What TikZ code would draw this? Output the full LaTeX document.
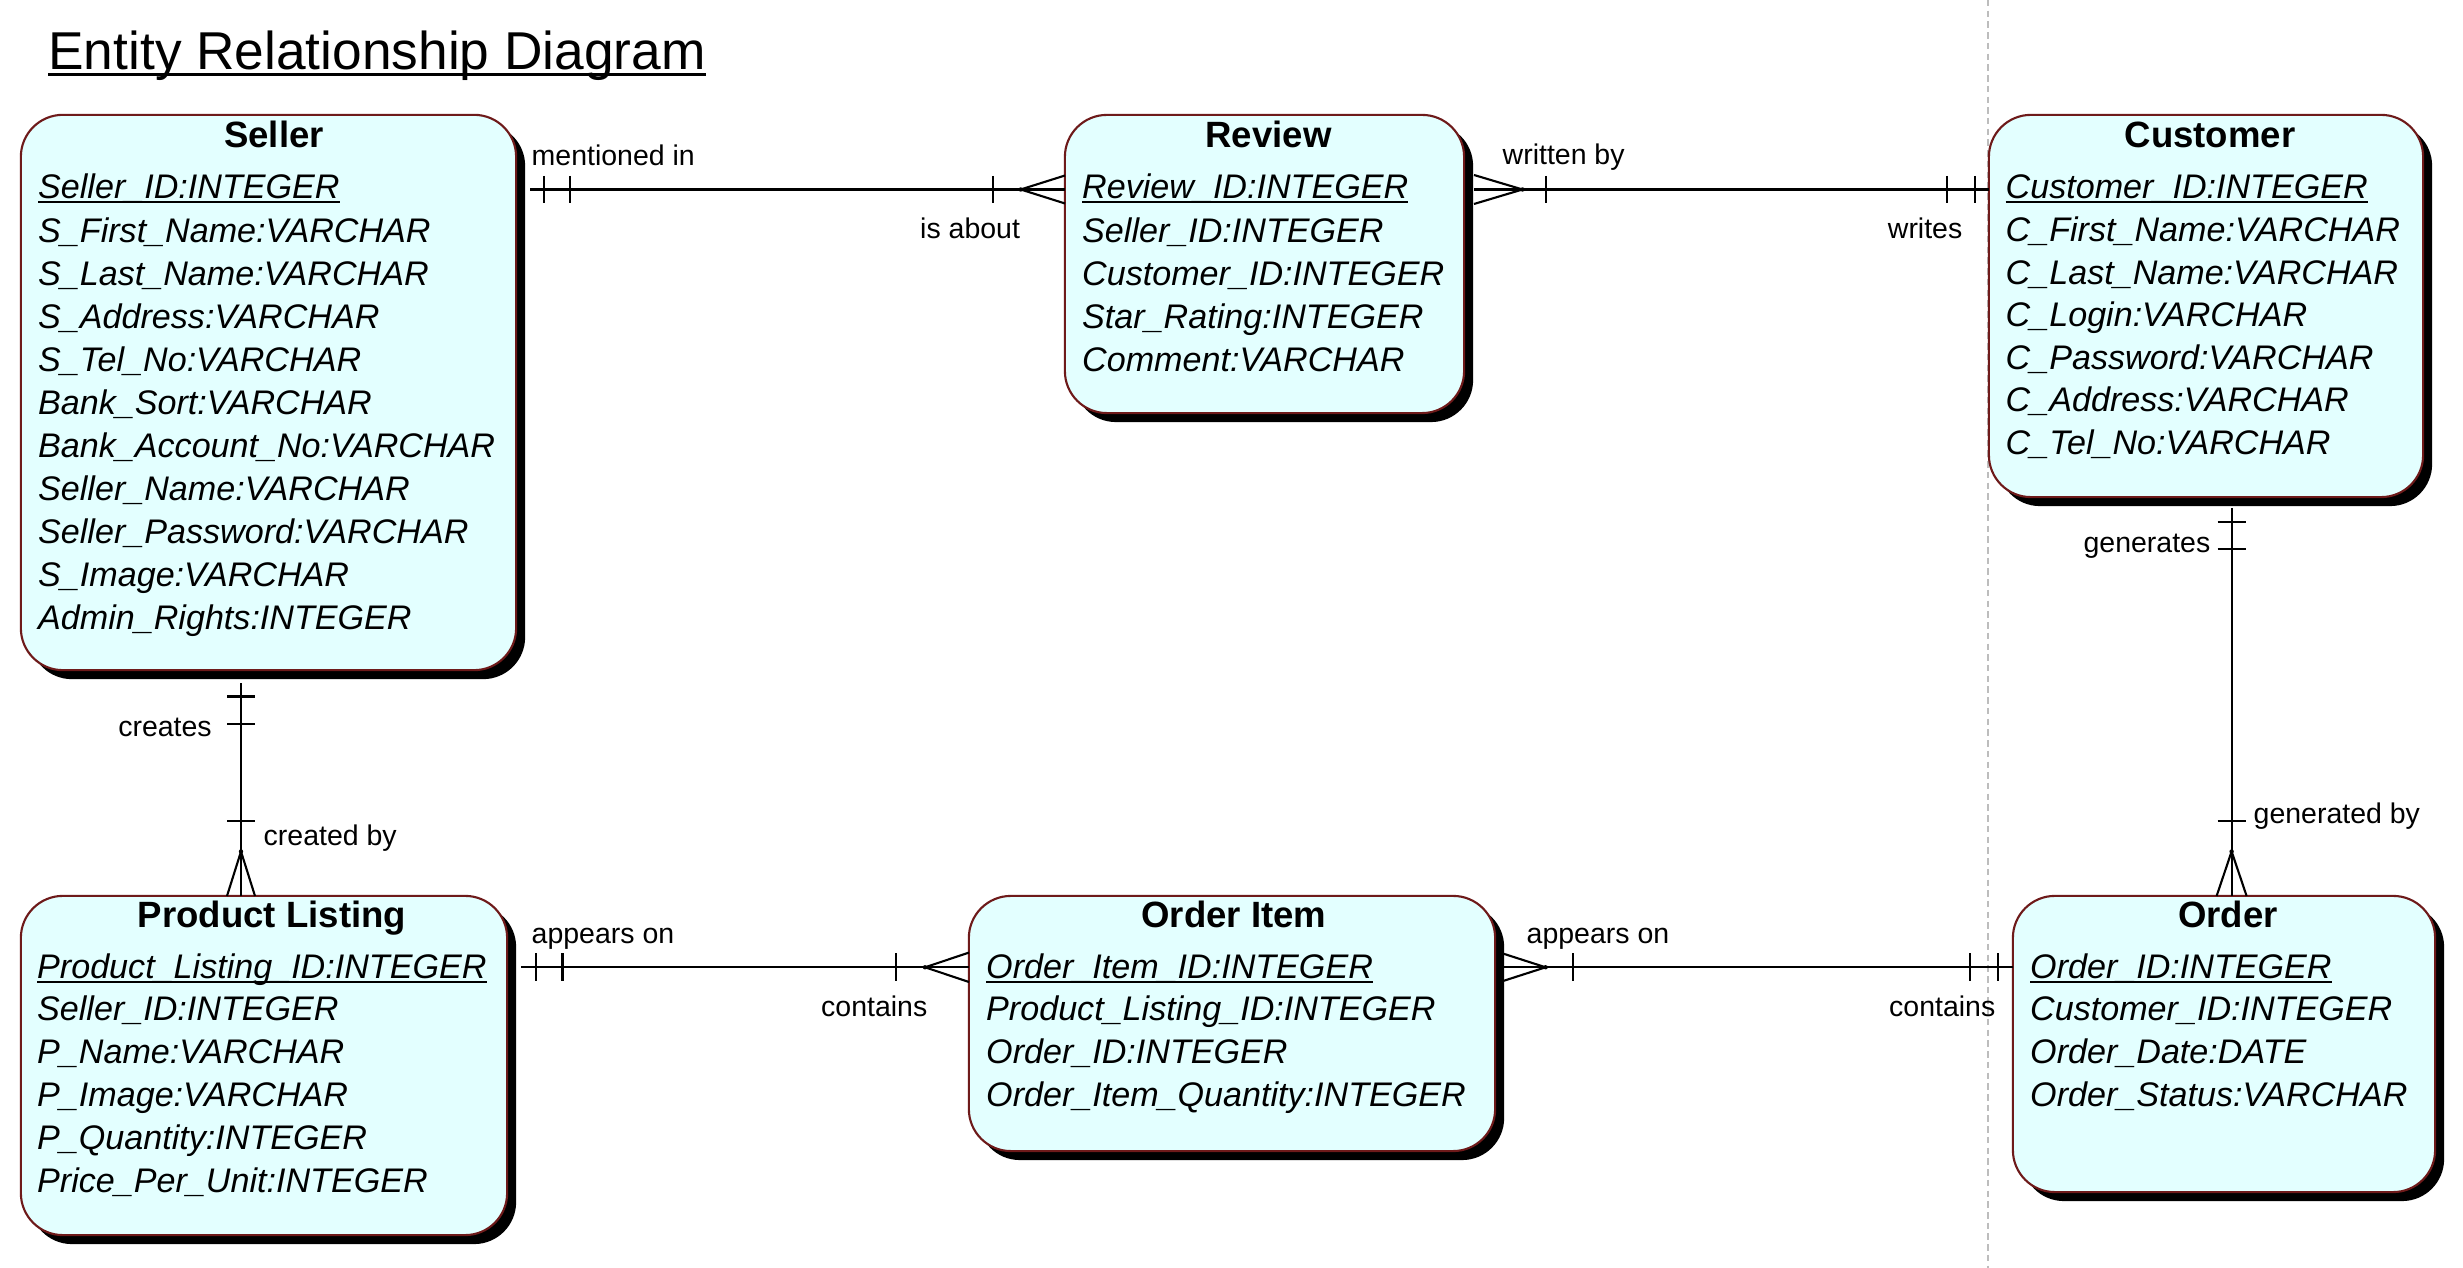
\documentclass[tikz,border=0pt]{standalone}
\usepackage{fontspec}
\setmainfont{Liberation Sans}
\usetikzlibrary{shadows}
\definecolor{efill}{HTML}{E3FFFF}
\definecolor{eborder}{HTML}{6E1A1A}
\definecolor{pagebreak}{HTML}{BDBDBD}
\newcommand\pkey[1]{\setbox0=\hbox{#1}\rlap{\rule[-1.25pt]{\wd0}{0.6pt}}\box0}
\newcommand\ultitle[1]{\setbox0=\hbox{#1}\rlap{\rule[-1.8pt]{\wd0}{0.9pt}}\box0}
\tikzset{
  entity/.style={draw=eborder, line width=0.6pt, fill=efill, rounded corners=0.42cm,
    inner sep=0pt, outer sep=0pt,
    drop shadow={shadow xshift=0.09cm, shadow yshift=-0.09cm, fill=black, opacity=1}},
  etitle/.style={anchor=base, font=\fontsize{10.4}{12}\selectfont\bfseries, inner sep=0pt},
  attr/.style={anchor=base west, font=\fontsize{9.7}{11}\selectfont\itshape, inner sep=0pt},
  rel/.style={line width=0.6pt, black},
  rlabel/.style={font=\fontsize{8.1}{10}\selectfont, inner sep=0pt},
  apexdot/.style={fill=black},
}
\begin{document}
\begin{tikzpicture}[x=0.01cm, y=-0.01cm]
\useasboundingbox (0,0) rectangle (2463,1268);
\fill[white] (0,0) rectangle (2463,1268);

% page break line
\draw[pagebreak, line width=0.5pt, dash pattern=on 1.85pt off 1.2pt] (1988.3,0) -- (1988.3,1268);

% title
\node[anchor=base west, inner sep=0pt, font=\fontsize{15.15}{17}\selectfont] (title) at (47.7,69.5) {\ultitle{Entity Relationship Diagram}};

% entity boxes
\node[entity, minimum width=4.95cm, minimum height=5.55cm] (seller) at (268.5,392.5) {};
\node[entity, minimum width=3.99cm, minimum height=2.98cm] (review) at (1264.5,264) {};
\node[entity, minimum width=4.34cm, minimum height=3.82cm] (customer) at (2206,306) {};
\node[entity, minimum width=4.86cm, minimum height=3.39cm] (product) at (264,1065.5) {};
\node[entity, minimum width=5.26cm, minimum height=2.55cm] (orderitem) at (1232,1023.5) {};
\node[entity, minimum width=4.22cm, minimum height=2.96cm] (order) at (2224,1044) {};

% Seller
\node[etitle] (seller-t) at (274,148) {Seller};
\node[attr] (seller-pk) at (37.5,199) {\pkey{Seller\_ID:INTEGER}};
\foreach \t [count=\i] in {S\_First\_Name:VARCHAR, S\_Last\_Name:VARCHAR, S\_Address:VARCHAR,
  S\_Tel\_No:VARCHAR, Bank\_Sort:VARCHAR, Bank\_Account\_No:VARCHAR, Seller\_Name:VARCHAR,
  Seller\_Password:VARCHAR, S\_Image:VARCHAR, Admin\_Rights:INTEGER}
  \node[attr] (seller-a\i) at (37.5,{243+(\i-1)*43}) {\t};

% Review
\node[etitle] (review-t) at (1268.5,148) {Review};
\node[attr] (review-pk) at (1081.5,199) {\pkey{Review\_ID:INTEGER}};
\foreach \t [count=\i] in {Seller\_ID:INTEGER, Customer\_ID:INTEGER, Star\_Rating:INTEGER, Comment:VARCHAR}
  \node[attr] (review-a\i) at (1081.5,{243+(\i-1)*43}) {\t};

% Customer
\node[etitle] (customer-t) at (2210,148) {Customer};
\node[attr] (customer-pk) at (2005,199) {\pkey{Customer\_ID:INTEGER}};
\foreach \t [count=\i] in {C\_First\_Name:VARCHAR, C\_Last\_Name:VARCHAR, C\_Login:VARCHAR,
  C\_Password:VARCHAR, C\_Address:VARCHAR, C\_Tel\_No:VARCHAR}
  \node[attr] (customer-a\i) at (2005,{242+(\i-1)*42.5}) {\t};

% Product Listing
\node[etitle] (product-t) at (272,928) {Product Listing};
\node[attr] (product-pk) at (36.5,979) {\pkey{Product\_Listing\_ID:INTEGER}};
\foreach \t [count=\i] in {Seller\_ID:INTEGER, P\_Name:VARCHAR, P\_Image:VARCHAR,
  P\_Quantity:INTEGER, Price\_Per\_Unit:INTEGER}
  \node[attr] (product-a\i) at (36.5,{1021+(\i-1)*43}) {\t};

% Order Item
\node[etitle] (orderitem-t) at (1234,928) {Order Item};
\node[attr] (orderitem-pk) at (985.5,979) {\pkey{Order\_Item\_ID:INTEGER}};
\foreach \t [count=\i] in {Product\_Listing\_ID:INTEGER, Order\_ID:INTEGER, Order\_Item\_Quantity:INTEGER}
  \node[attr] (orderitem-a\i) at (985.5,{1021+(\i-1)*43}) {\t};

% Order
\node[etitle] (order-t) at (2228,928) {Order};
\node[attr] (order-pk) at (2029.5,979) {\pkey{Order\_ID:INTEGER}};
\foreach \t [count=\i] in {Customer\_ID:INTEGER, Order\_Date:DATE, Order\_Status:VARCHAR}
  \node[attr] (order-a\i) at (2029.5,{1021+(\i-1)*43}) {\t};

% ---- Seller -- Review
\coordinate (sr) at (530,189.5);
\draw[rel] (sr) -- (review.west |- sr);
\draw[rel] (543.7,176) -- (543.7,203) (569.6,176) -- (569.6,203);
\draw[rel] (992.6,176) -- (992.6,203);
\draw[rel] (1065,175.5) -- (1020.7,189.5) -- (1065,203.5);
\fill[apexdot] (1020.7,189.5) circle (2.2);
\node[rlabel, anchor=base west] (l-mentioned) at (531,166) {mentioned in};
\node[rlabel, anchor=base east] (l-isabout) at (1020.7,238.8) {is about};

% ---- Review -- Customer
\coordinate (rc) at (1474,189.5);
\draw[rel] (rc) -- (customer.west |- rc);
\draw[rel] (1474,175) -- (1522.5,189.5) -- (1474,204);
\fill[apexdot] (1522.5,189.5) circle (2.2);
\draw[rel] (1546,176) -- (1546,203);
\draw[rel] (1947,176) -- (1947,203) (1975,176) -- (1975,203);
\node[rlabel, anchor=base west] (l-writtenby) at (1502,165) {written by};
\node[rlabel, anchor=base east] (l-writes) at (1963,239) {writes};

% ---- Customer -- Order
\coordinate (co) at (2231.6,508);
\draw[rel] (co) -- (co |- order.north);
\draw[rel] (2217.6,522) -- (2245.6,522) (2217.6,549) -- (2245.6,549);
\draw[rel] (2217.6,821) -- (2245.6,821);
\draw[rel] (2216.6,896) -- (2231.6,851.5) -- (2246.6,896);
\fill[apexdot] (2231.6,851.5) circle (2.2);
\node[rlabel, anchor=base east] (l-generates) at (2211,552.6) {generates};
\node[rlabel, anchor=base west] (l-generatedby) at (2253,823.4) {generated by};

% ---- Seller -- Product Listing
\coordinate (sp) at (241,683.5);
\draw[rel] (sp) -- (sp |- product.north);
\draw[rel] (227,696.5) -- (255,696.5) (227,724) -- (255,724);
\draw[rel] (227,821) -- (255,821);
\draw[rel] (227,896) -- (241,851.5) -- (255,896);
\fill[apexdot] (241,851.5) circle (2.2);
\node[rlabel, anchor=base east] (l-creates) at (212.4,736.7) {creates};
\node[rlabel, anchor=base west] (l-createdby) at (263,846) {created by};

% ---- Product Listing -- Order Item
\coordinate (po) at (521,967.3);
\draw[rel] (po) -- (orderitem.west |- po);
\draw[rel] (535.7,953.5) -- (535.7,981) (562.5,953.5) -- (562.5,981);
\draw[rel] (896.4,953.5) -- (896.4,981);
\draw[rel] (969,952.6) -- (925,967.3) -- (969,982);
\fill[apexdot] (925,967.3) circle (2.2);
\node[rlabel, anchor=base west] (l-appears1) at (531,943.6) {appears on};
\node[rlabel, anchor=base east] (l-contains1) at (928,1016.6) {contains};

% ---- Order Item -- Order
\coordinate (oo) at (1500,967.3);
\draw[rel] (oo) -- (order.west |- oo);
\draw[rel] (1500,952.6) -- (1545.6,967.3) -- (1500,982);
\fill[apexdot] (1545.6,967.3) circle (2.2);
\draw[rel] (1572.7,953.5) -- (1572.7,981);
\draw[rel] (1970,953.5) -- (1970,981) (1998,953.5) -- (1998,981);
\node[rlabel, anchor=base west] (l-appears2) at (1526,943.6) {appears on};
\node[rlabel, anchor=base east] (l-contains2) at (1996,1016.6) {contains};
\end{tikzpicture}
\end{document}
